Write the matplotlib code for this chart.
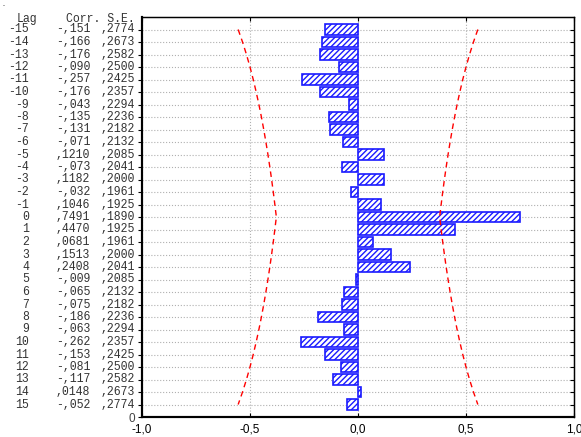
import numpy as np
import matplotlib.pyplot as plt
import matplotlib.transforms as mtransforms

# cross-correlation table
lags = [-15, -14, -13, -12, -11, -10, -9, -8, -7, -6, -5, -4, -3, -2, -1,
        0, 1, 2, 3, 4, 5, 6, 7, 8, 9, 10, 11, 12, 13, 14, 15]
corr = [-0.151, -0.166, -0.176, -0.090, -0.257, -0.176, -0.043, -0.135,
        -0.131, -0.071, 0.1210, -0.073, 0.1182, -0.032, 0.1046, 0.7491,
        0.4470, 0.0681, 0.1513, 0.2408, -0.009, -0.065, -0.075, -0.186,
        -0.063, -0.262, -0.153, -0.081, -0.117, 0.0148, -0.052]
se = [0.2774, 0.2673, 0.2582, 0.2500, 0.2425, 0.2357, 0.2294, 0.2236,
      0.2182, 0.2132, 0.2085, 0.2041, 0.2000, 0.1961, 0.1925, 0.1890,
      0.1925, 0.1961, 0.2000, 0.2041, 0.2085, 0.2132, 0.2182, 0.2236,
      0.2294, 0.2357, 0.2425, 0.2500, 0.2582, 0.2673, 0.2774]
xticks = [-1.0, -0.5, 0.0, 0.5, 1.0]
xtick_labels = ['-1,0', '-0,5', '0,0', '0,5', '1,0']


def fmt(v):
    # statistica style: ,1210  -,151
    if v < 0:
        return '-,%03d' % round(-v * 1000)
    return ',%04d' % round(v * 10000)


lags = np.array(lags)
corr = np.array(corr)
se = np.array(se)
ypos = 16 - lags   # lag -15 at top

W, H = 581, 437
fig = plt.figure(figsize=(W / 100, H / 100), dpi=100)
ax = fig.add_axes([142 / W, 1 - 417 / H, (574 - 142) / W, (417 - 17) / H])

ax.barh(ypos, corr, height=0.85, color='white', edgecolor='#1a1aff',
        hatch='//////', linewidth=1.2, zorder=3)

# confidence limits, 2 * S.E.
ax.plot(2 * se, ypos, color='red', ls=(0, (4, 3)), lw=1.0, zorder=4)
ax.plot(-2 * se, ypos, color='red', ls=(0, (4, 3)), lw=1.0, zorder=4)

ax.set_xlim(-1, 1)
ax.set_ylim(0, 32)

ax.set_xticks(xticks)
ax.set_xticklabels(xtick_labels, fontsize=8.5, family='Liberation Sans')
ax.set_yticks([0] + list(ypos))
ax.set_yticklabels(['0'] + [''] * len(ypos), fontsize=8.5, family='Liberation Sans',
                   color='#444444')

ax.tick_params(axis='x', direction='in', top=True, bottom=True, length=3,
               pad=5, width=0.8)
ax.tick_params(axis='y', direction='out', left=True, right=False, length=3,
               pad=2, width=0.8)

ax.grid(True, ls=':', color='#b0b0b0', lw=0.8, zorder=0)
ax.set_axisbelow(True)

# inward ticks on the right side
ax2 = ax.twinx()
ax2.set_ylim(0, 32)
ax2.set_yticks(ypos)
ax2.set_yticklabels([])
ax2.tick_params(axis='y', direction='in', length=3, width=0.8)

for a in [ax, ax2]:
    for side in ['left', 'bottom']:
        a.spines[side].set_linewidth(1.5)
    for side in ['top', 'right']:
        a.spines[side].set_linewidth(0.9)

# table on the left
tr = mtransforms.blended_transform_factory(fig.transFigure, ax.transData)
mono = dict(family='Liberation Mono', fontsize=8.3, va='center',
            transform=tr, color='#333333')
ax.text(37 / W, 31.85, 'Lag', ha='right', **mono)
ax.text(135 / W, 31.85, 'Corr. S.E.', ha='right', **mono)
for lg, c, s, y in zip(lags, corr, se, ypos):
    ax.text(29 / W, y, str(lg), ha='right', **mono)
    ax.text(90 / W, y, fmt(c), ha='right', **mono)
    ax.text(135 / W, y, ',%04d' % round(s * 10000), ha='right', **mono)

fig.text(3 / W, 1 - 6 / H, '-', fontsize=4, va='center')

plt.savefig('out.png', dpi=100)
